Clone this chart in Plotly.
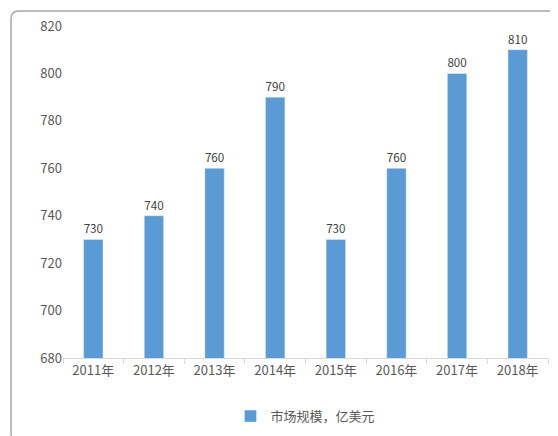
import plotly.graph_objects as go

years = ["2011年", "2012年", "2013年", "2014年", "2015年", "2016年", "2017年", "2018年"]
market = [730, 740, 760, 790, 730, 760, 800, 810]

fig = go.Figure(go.Bar(
    x=years, y=market, name="市场规模，亿美元",
    marker_color="#5B9BD5", width=0.32,
    text=market, textposition="outside",
    textfont=dict(size=15, color="#404040"),
    cliponaxis=False,
))

# rounded outer frame (paper coords relative to plot area)
l, r, t, b = 55, 18, 18, 86
W, H = 558, 436
pw, ph = W - l - r, H - t - b
x0, x1 = (3 - l) / pw, (W - 3 - l) / pw
y0, y1 = -(b - 3) / ph, (ph + t - 3) / ph
rx, ry = 8 / pw, 8 / ph
path = (f"M{x0+rx},{y0} L{x1-rx},{y0} Q{x1},{y0} {x1},{y0+ry} L{x1},{y1-ry} Q{x1},{y1} {x1-rx},{y1} "
        f"L{x0+rx},{y1} Q{x0},{y1} {x0},{y1-ry} L{x0},{y0+ry} Q{x0},{y0} {x0+rx},{y0} Z")
fig.add_shape(type="path", path=path, xref="paper", yref="paper",
              line=dict(color="#A6A6A6", width=1.5))

fig.update_layout(
    width=W, height=H,
    margin=dict(l=l, r=r, t=t, b=b, autoexpand=False),
    plot_bgcolor="white", paper_bgcolor="white",
    font=dict(family="Noto Sans CJK SC", size=13, color="#595959"),
    showlegend=True,
    legend=dict(orientation="h", x=0.5, xanchor="center", y=-0.13, yanchor="top",
                font=dict(size=13, color="#595959")),
    xaxis=dict(showline=True, linecolor="#D9D9D9", ticks="outside", tickcolor="#D9D9D9",
               ticklen=5, tickson="boundaries", showgrid=False),
    yaxis=dict(range=[680, 820], dtick=20, showgrid=False, showline=False,
               zeroline=False, tickfont=dict(size=13)),
)

fig.write_html("out.html")
